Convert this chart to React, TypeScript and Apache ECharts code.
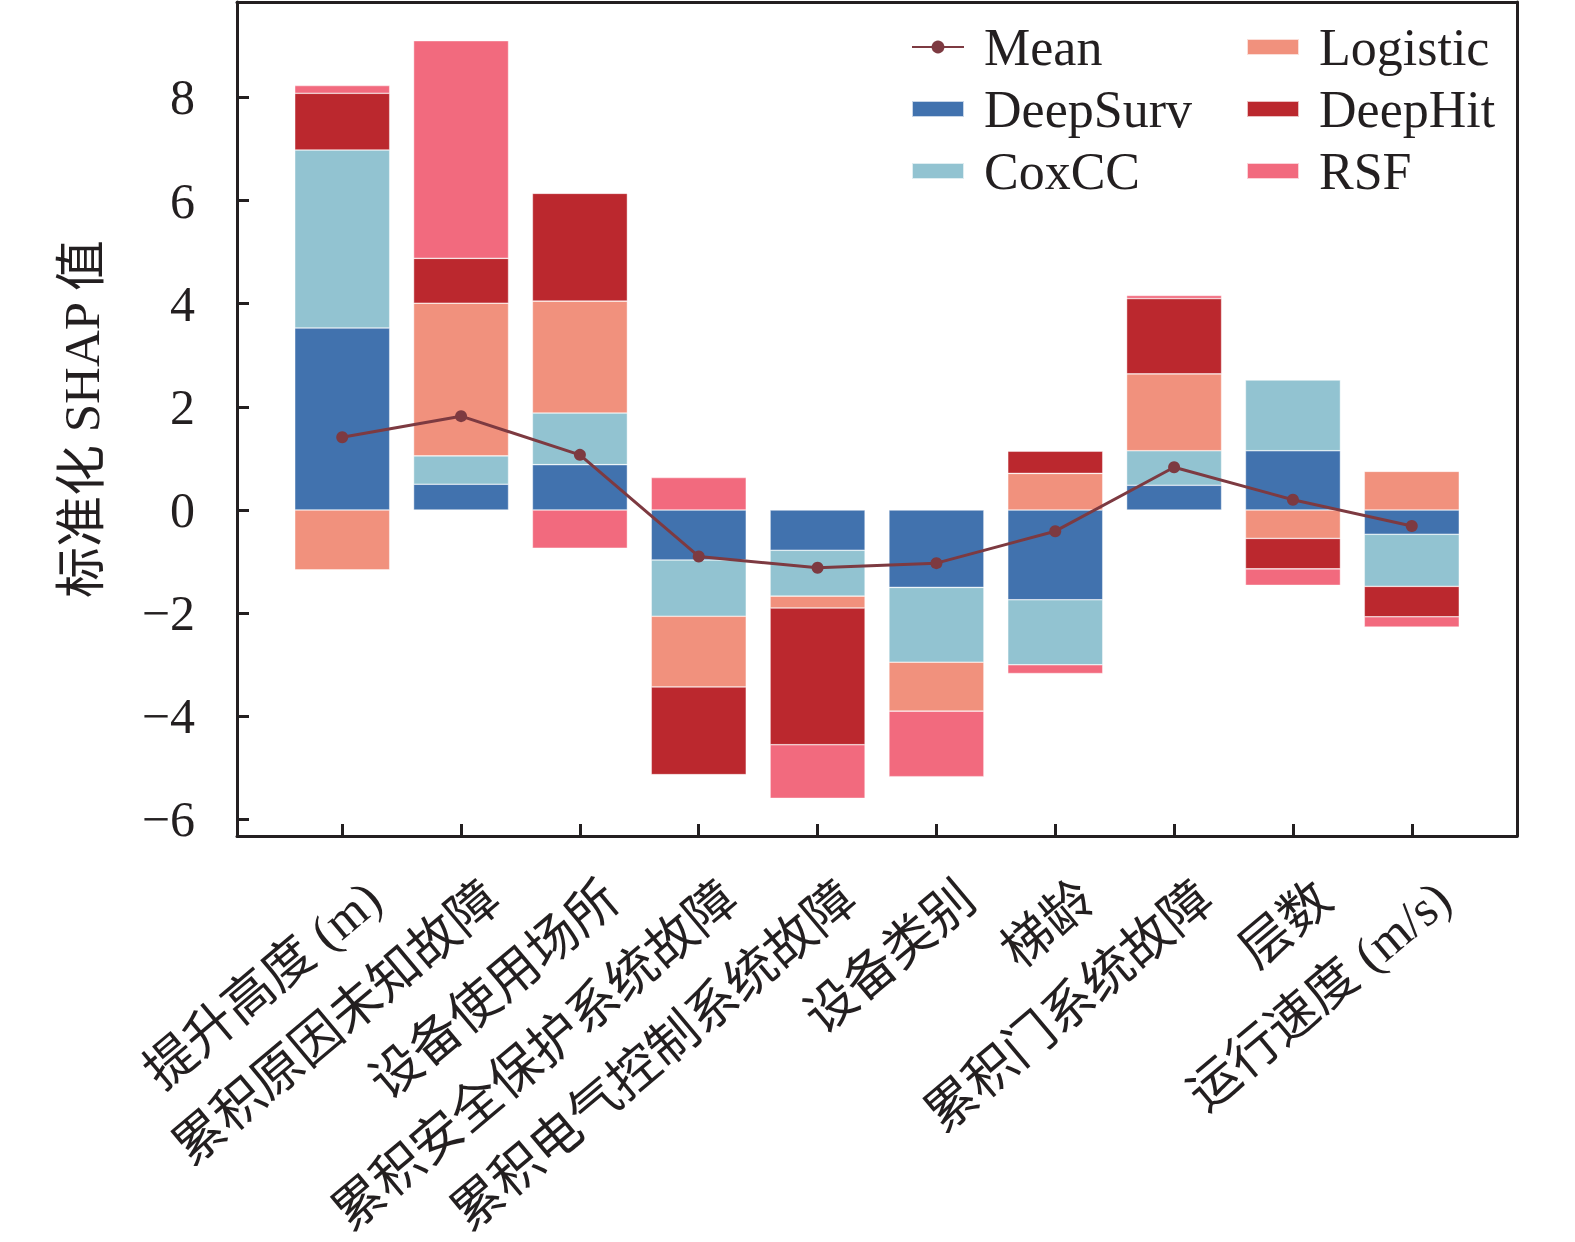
import React, { useEffect, useRef } from 'react';
import * as echarts from 'echarts';

const categories = [
  '提升高度 (m)',
  '累积原因未知故障',
  '设备使用场所',
  '累积安全保护系统故障',
  '累积电气控制系统故障',
  '设备类别',
  '梯龄',
  '累积门系统故障',
  '层数',
  '运行速度 (m/s)',
];
const deepSurv = [3.53, 0.5, 0.88, -0.97, -0.78, -1.5, -1.74, 0.48, 1.15, -0.47];
const coxCC = [3.45, 0.55, 1.0, -1.09, -0.89, -1.45, -1.26, 0.67, 1.37, -1.01];
const logistic = [-1.16, 2.96, 2.17, -1.37, -0.23, -0.95, 0.71, 1.49, -0.55, 0.75];
const deepHit = [1.1, 0.87, 2.09, -1.7, -2.65, 0, 0.43, 1.46, -0.59, -0.59];
const rsf = [0.15, 4.22, -0.74, 0.63, -1.04, -1.27, -0.17, 0.06, -0.32, -0.2];
const meanValues = [1.41, 1.82, 1.07, -0.9, -1.12, -1.03, -0.41, 0.83, 0.2, -0.31];
const yTicks = [-6, -4, -2, 0, 2, 4, 6, 8];

const INK = '#231f20';
const FONT = "'Liberation Serif', 'Noto Sans CJK SC', serif";
const Y_MIN = -6.32;
const Y_MAX = 9.85;

const colors = {
  Mean: '#7d3a41',
  DeepSurv: '#4172ae',
  CoxCC: '#92c3d1',
  Logistic: '#f1917d',
  DeepHit: '#bb282e',
  RSF: '#f26a7e',
};

// frame box and inner band grid (outer frame is wider than the category bands)
const FRAME = { left: 237, right: 58, top: 2, bottom: 406 };
const INNER_PAD = 45.8;

export default function App() {
  const ref = useRef<HTMLDivElement>(null);
  useEffect(() => {
    document.body.style.margin = '0';
    if (!ref.current) return;
    const chart = echarts.init(ref.current, undefined, { renderer: 'svg' });
    const barSeries = (name: string, values: number[]) => ({
      name,
      type: 'bar',
      stack: 'shap',
      barWidth: 95,
      xAxisIndex: 2,
      yAxisIndex: 2,
      data: values,
      itemStyle: { color: (colors as any)[name], borderColor: 'rgba(255,255,255,0.7)', borderWidth: 0.6 },
      emphasis: { disabled: true },
    });
    const legendCommon = {
      orient: 'vertical',
      top: 21,
      itemWidth: 52,
      itemHeight: 16,
      itemGap: 10,
      padding: 0,
      textStyle: { fontSize: 52, color: INK, fontFamily: FONT, padding: [0, 0, 0, 15] },
    };
    const frameLine = { show: true, onZero: false, lineStyle: { color: INK, width: 3 } };
    const option: any = {
      animation: false,
      backgroundColor: '#ffffff',
      textStyle: { fontFamily: FONT },
      grid: [
        { ...FRAME, containLabel: false, outerBoundsMode: 'none' },
        {
          left: FRAME.left + INNER_PAD,
          right: FRAME.right + INNER_PAD,
          top: FRAME.top,
          bottom: FRAME.bottom,
          containLabel: false,
          outerBoundsMode: 'none',
        },
      ],
      legend: [
        { ...legendCommon, left: 911, data: [{ name: 'Mean' }, { name: 'DeepSurv', icon: 'rect' }, { name: 'CoxCC', icon: 'rect' }] },
        { ...legendCommon, left: 1246, data: [{ name: 'Logistic', icon: 'rect' }, { name: 'DeepHit', icon: 'rect' }, { name: 'RSF', icon: 'rect' }] },
      ],
      xAxis: [
        {
          gridIndex: 0,
          type: 'value',
          min: 0,
          max: 1,
          position: 'bottom',
          axisLine: frameLine,
          axisTick: { show: false },
          axisLabel: { show: false },
          splitLine: { show: false },
        },
        {
          gridIndex: 0,
          type: 'value',
          min: 0,
          max: 1,
          position: 'top',
          axisLine: frameLine,
          axisTick: { show: false },
          axisLabel: { show: false },
          splitLine: { show: false },
        },
        {
          gridIndex: 1,
          type: 'category',
          data: categories,
          boundaryGap: true,
          position: 'bottom',
          axisLine: { show: false, onZero: false },
          axisTick: { show: true, inside: true, alignWithLabel: true, interval: 0, length: 12, lineStyle: { color: INK, width: 3 } },
          axisLabel: {
            show: true,
            interval: 0,
            rotate: 40,
            align: 'right',
            verticalAlign: 'top',
            margin: 36,
            padding: [10, -11.5, 0, 0],
            fontSize: 51,
            color: INK,
            fontFamily: FONT,
          },
          splitLine: { show: false },
        },
      ],
      yAxis: [
        {
          gridIndex: 0,
          type: 'value',
          min: Y_MIN,
          max: Y_MAX,
          position: 'left',
          name: '标准化 SHAP 值',
          nameLocation: 'middle',
          nameRotate: 90,
          nameGap: 130,
          nameTextStyle: { fontSize: 51, color: INK, fontFamily: FONT },
          axisLine: frameLine,
          axisTick: { show: true, inside: true, length: 12, customValues: yTicks, lineStyle: { color: INK, width: 3 } },
          axisLabel: {
            show: true,
            margin: 42,
            fontSize: 50,
            color: INK,
            fontFamily: FONT,
            customValues: yTicks,
            formatter: (v: number) => (v < 0 ? '\u2212' + Math.abs(v) : String(v)),
          },
          splitLine: { show: false },
        },
        {
          gridIndex: 0,
          type: 'value',
          min: Y_MIN,
          max: Y_MAX,
          position: 'right',
          axisLine: frameLine,
          axisTick: { show: false },
          axisLabel: { show: false },
          splitLine: { show: false },
        },
        {
          gridIndex: 1,
          type: 'value',
          min: Y_MIN,
          max: Y_MAX,
          show: false,
          splitLine: { show: false },
        },
      ],
      series: [
        barSeries('DeepSurv', deepSurv),
        barSeries('CoxCC', coxCC),
        barSeries('Logistic', logistic),
        barSeries('DeepHit', deepHit),
        barSeries('RSF', rsf),
        {
          name: 'Mean',
          type: 'line',
          xAxisIndex: 2,
          yAxisIndex: 2,
          data: meanValues,
          symbol: 'circle',
          symbolSize: 12,
          z: 5,
          lineStyle: { color: colors.Mean, width: 3 },
          itemStyle: { color: colors.Mean },
          emphasis: { disabled: true },
        },
      ],
    };
    chart.setOption(option);
    return () => chart.dispose();
  }, []);
  return <div ref={ref} style={{ width: 1575, height: 1242 }} />;
}
